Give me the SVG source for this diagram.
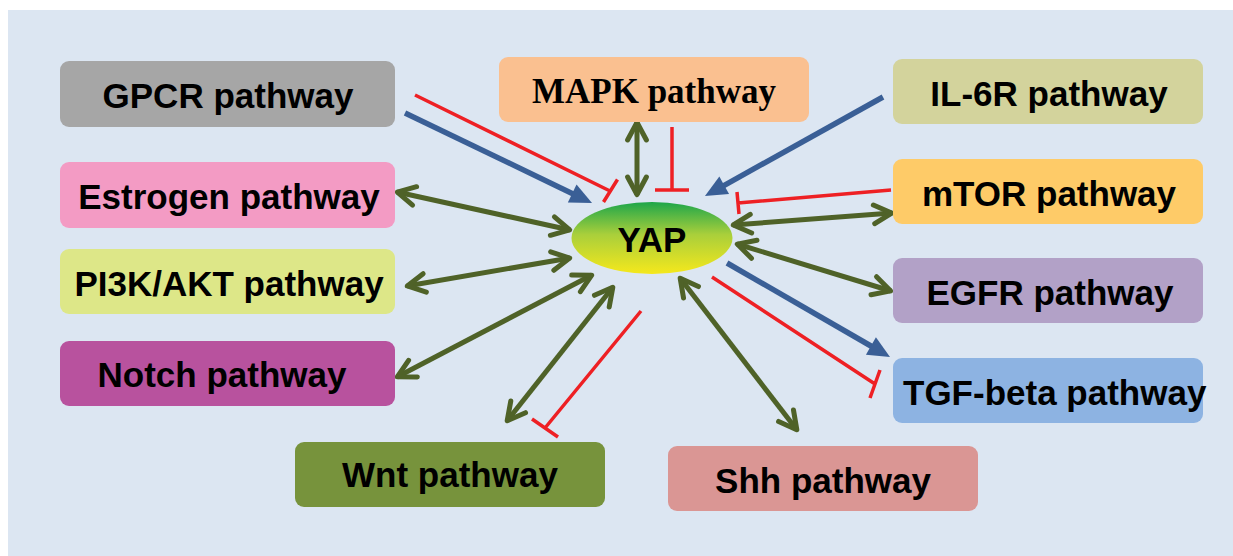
<svg xmlns="http://www.w3.org/2000/svg" width="1233" height="556" viewBox="0 0 1233 556">
<defs>
<style>
.box{stroke:none}
.lbl{font-family:"Liberation Sans",Arial,sans-serif;font-weight:bold;font-size:35px;fill:#000;text-anchor:middle}
.serif{font-family:"Liberation Serif","Times New Roman",serif}
.g{fill:none;stroke:#4f6228;stroke-width:5;marker-start:url(#ga);marker-end:url(#ga)}
.b{fill:none;stroke:#3a5f96;stroke-width:5.5;marker-end:url(#ba)}
.r{fill:none;stroke:#ee2024;stroke-width:3.5}
</style>
<linearGradient id="yapg" x1="0" y1="0" x2="0" y2="1">
<stop offset="0" stop-color="#1ea64a"/>
<stop offset="0.45" stop-color="#a9cf3b"/>
<stop offset="1" stop-color="#f5e81c"/>
</linearGradient>
<marker id="ga" viewBox="0 0 26 24" refX="21" refY="12" markerWidth="26" markerHeight="24" markerUnits="userSpaceOnUse" orient="auto-start-reverse" overflow="visible">
<path d="M3,2.6 L20.7,12 L3,21.4" fill="none" stroke="#4f6228" stroke-width="5" stroke-linecap="round" stroke-linejoin="round"/>
</marker>
<marker id="ba" viewBox="0 0 22 20" refX="4" refY="10" markerWidth="22" markerHeight="20" markerUnits="userSpaceOnUse" orient="auto" overflow="visible">
<path d="M0,0 L22,10 L0,20 Z" fill="#3a5f96"/>
</marker>
</defs>
<rect x="0" y="0" width="1233" height="556" fill="#ffffff"/>
<rect x="8" y="10" width="1225" height="546" fill="#dce6f2"/>

<g id="connectors">
<path class="g" d="M637,122 L637,195"/>
<path class="g" d="M397,192 L570,230"/>
<path class="g" d="M407,286 L570,258"/>
<path class="g" d="M397,377 L592,275"/>
<path class="g" d="M613,287 L507,421"/>
<path class="g" d="M680,278 L797,430"/>
<path class="g" d="M733,225 L892,213"/>
<path class="g" d="M737,244 L891,291"/>
<path class="b" d="M405,113 L575.8,195.2"/>
<path class="b" d="M883,97 L720.7,187.3"/>
<path class="b" d="M727,263 L874.4,348"/>
<path class="r" d="M415,95 L610,191 M603.5,202 L617.5,179.5"/>
<path class="r" d="M672,127 L672,190 M655,190 L689,190"/>
<path class="r" d="M891,190 L738,203 M737,192 L739,214"/>
<path class="r" d="M712,277 L875,384 M880,370 L870,398"/>
<path class="r" d="M641,311 L545,428 M532,419 L558,437"/>
</g>

<g id="gpcr"><rect class="box" x="60" y="61" width="335" height="66" rx="9" fill="#a6a6a6"/><text class="lbl" x="228" y="108">GPCR pathway</text></g>
<g id="estrogen"><rect class="box" x="60" y="162" width="335" height="66" rx="9" fill="#f39bc4"/><text class="lbl" x="229" y="209">Estrogen pathway</text></g>
<g id="pi3k"><rect class="box" x="60" y="249" width="335" height="65" rx="9" fill="#dde788"/><text class="lbl" x="229" y="296">PI3K/AKT pathway</text></g>
<g id="notch"><rect class="box" x="60" y="341" width="335" height="65" rx="9" fill="#b8529e"/><text class="lbl" x="222" y="387">Notch pathway</text></g>
<g id="wnt"><rect class="box" x="295" y="442" width="310" height="65" rx="9" fill="#77933c"/><text class="lbl" x="450" y="487">Wnt pathway</text></g>
<g id="shh"><rect class="box" x="668" y="446" width="310" height="65" rx="9" fill="#da9694"/><text class="lbl" x="823" y="493">Shh pathway</text></g>
<g id="mapk"><rect class="box" x="499" y="57" width="310" height="65" rx="9" fill="#fac090"/><text class="lbl serif" x="654" y="103">MAPK pathway</text></g>
<g id="il6r"><rect class="box" x="893" y="59" width="310" height="65" rx="9" fill="#d3d39c"/><text class="lbl" x="1049" y="106">IL-6R pathway</text></g>
<g id="mtor"><rect class="box" x="893" y="159" width="310" height="65" rx="9" fill="#fecb68"/><text class="lbl" x="1049" y="206">mTOR pathway</text></g>
<g id="egfr"><rect class="box" x="893" y="258" width="310" height="65" rx="9" fill="#b2a1c7"/><text class="lbl" x="1050" y="305">EGFR pathway</text></g>
<g id="tgf"><rect class="box" x="893" y="358" width="310" height="65" rx="9" fill="#8db3e2"/><text class="lbl" x="903" y="405" style="text-anchor:start">TGF-beta pathway</text></g>
<g id="yap"><ellipse cx="652" cy="238" rx="80.5" ry="36" fill="url(#yapg)"/><text class="lbl" x="652" y="252">YAP</text></g>
</svg>
